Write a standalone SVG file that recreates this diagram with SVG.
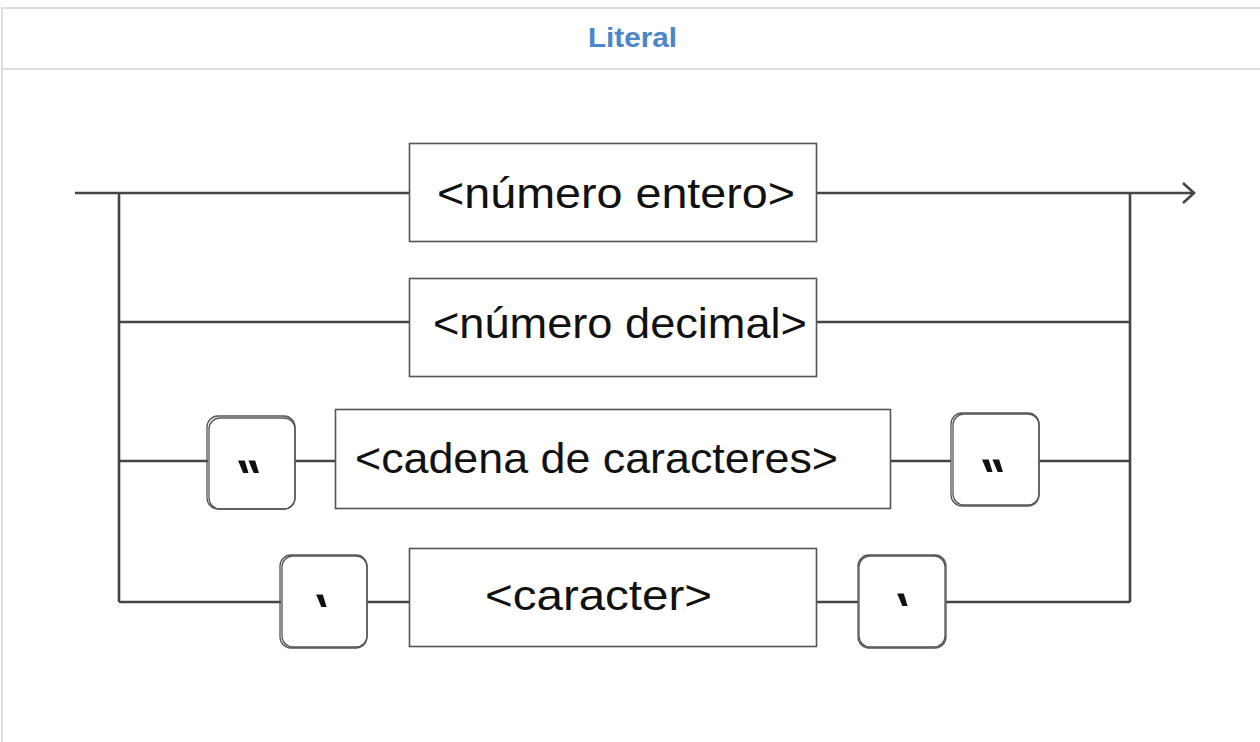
<svg xmlns="http://www.w3.org/2000/svg" width="1260" height="742" viewBox="0 0 1260 742">
<defs>
<style>
.frame{fill:none;stroke:#dddddd;stroke-width:2}
.title{font-family:"Liberation Sans",Arial,sans-serif;font-weight:bold;font-size:28px;fill:#4a86c8}
.box{fill:#ffffff;stroke:#555555;stroke-width:1.6}
.rbox{fill:none;stroke:#555555;stroke-width:1.3}
.lbl{font-family:"Liberation Sans",Arial,sans-serif;font-size:42px;fill:#111111}
.q{font-family:"Liberation Sans",Arial,sans-serif;font-size:50px;fill:#111111;font-weight:bold;text-anchor:middle}
.conn{fill:none;stroke:#444444;stroke-width:2.6}
</style>
</defs>
<rect class="frame" x="2" y="8" width="1270" height="760"/>
<line class="frame" x1="2" y1="69" x2="1260" y2="69"/>
<text class="title" x="632.5" y="47" text-anchor="middle" textLength="89" lengthAdjust="spacingAndGlyphs">Literal</text>

<g id="connectors">
<path class="conn" d="M75 193 H409 M816 193 H1194"/>
<path class="conn" d="M1183 183 L1194 193 L1183 203"/>
<path class="conn" d="M119 193 V602"/>
<path class="conn" d="M1130 193 V602"/>
<path class="conn" d="M119 322 H409 M816 322 H1130"/>
<path class="conn" d="M119 461 H208 M295 461 H335 M890 461 H951 M1039 461 H1130"/>
<path class="conn" d="M119 602 H281 M367 602 H409 M816 602 H858 M945 602 H1130"/>
</g>

<g id="numero-entero">
<rect class="box" x="409.5" y="143.5" width="407" height="98"/>
<text class="lbl" x="437" y="208" textLength="358" lengthAdjust="spacingAndGlyphs">&lt;número entero&gt;</text>
</g>

<g id="numero-decimal">
<rect class="box" x="409.5" y="278.5" width="407" height="98"/>
<text class="lbl" x="433" y="338" textLength="374" lengthAdjust="spacingAndGlyphs">&lt;número decimal&gt;</text>
</g>

<g id="comilla-doble-1">
<rect fill="#fff" x="208" y="417" width="87" height="92" rx="11"/>
<rect class="rbox" x="207" y="416" width="88" height="93" rx="11"/>
<rect class="rbox" x="209" y="418" width="86" height="91" rx="11"/>
<text class="q" transform="translate(259,495) skewX(20)" x="0" y="0">"</text>
</g>

<g id="cadena-de-caracteres">
<rect class="box" x="335.5" y="409.5" width="555" height="99"/>
<text class="lbl" x="355" y="473" textLength="483" lengthAdjust="spacingAndGlyphs">&lt;cadena de caracteres&gt;</text>
</g>

<g id="comilla-doble-2">
<rect fill="#fff" x="951" y="413" width="88" height="93" rx="11"/>
<rect class="rbox" x="951" y="413" width="88" height="93" rx="11"/>
<rect class="rbox" x="953" y="414" width="86" height="91" rx="11"/>
<text class="q" transform="translate(1003,494) skewX(20)" x="0" y="0">"</text>
</g>

<g id="comilla-simple-1">
<rect fill="#fff" x="281" y="555" width="86" height="93" rx="11"/>
<rect class="rbox" x="280" y="555" width="87" height="93" rx="11"/>
<rect class="rbox" x="282" y="556" width="85" height="91" rx="11"/>
<text class="q" transform="translate(332,629) skewX(20)" x="0" y="0">'</text>
</g>

<g id="caracter">
<rect class="box" x="409.5" y="548.5" width="407" height="98"/>
<text class="lbl" x="485" y="610" textLength="227" lengthAdjust="spacingAndGlyphs">&lt;caracter&gt;</text>
</g>

<g id="comilla-simple-2">
<rect fill="#fff" x="858" y="555" width="88" height="93" rx="11"/>
<rect class="rbox" x="858" y="555" width="88" height="93" rx="11"/>
<rect class="rbox" x="859" y="556" width="86" height="91" rx="11"/>
<text class="q" transform="translate(913,628) skewX(20)" x="0" y="0">'</text>
</g>
</svg>
